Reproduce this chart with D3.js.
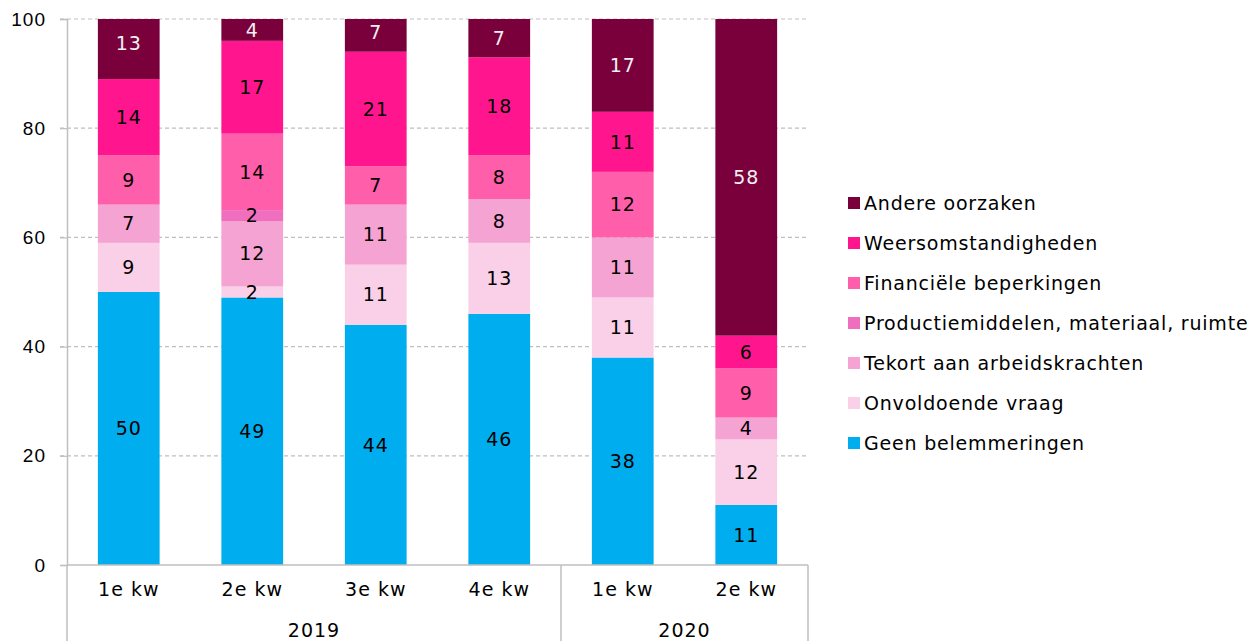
<!DOCTYPE html>
<html>
<head>
<meta charset="utf-8">
<script src="https://cdn.jsdelivr.net/npm/d3@7"></script>
<style>
  body { margin: 0; background: #fff; }
  svg { font-family: "DejaVu Sans", sans-serif; }
</style>
</head>
<body>
<svg id="chart" width="1258" height="641"></svg>
<script>
// quarters and years
const quarters = ['1e kw', '2e kw', '3e kw', '4e kw', '1e kw', '2e kw'];
const years = [
  { label: '2019', from: 0, to: 4 },
  { label: '2020', from: 4, to: 6 }
];

// series, bottom to top of the stack
const seriesNames = [
  'Geen belemmeringen',
  'Onvoldoende vraag',
  'Tekort aan arbeidskrachten',
  'Productiemiddelen, materiaal, ruimte',
  'Financiële beperkingen',
  'Weersomstandigheden',
  'Andere oorzaken'
];
const seriesColors = ['#00AEEF', '#FAD0E8', '#F5A3D3', '#F06EBE', '#FF5EAA', '#FF168E', '#7A003C'];
const labelColors = ['#000', '#000', '#000', '#000', '#000', '#000', '#F0F0F0'];

const geen = [50, 49, 44, 46, 38, 11];
const onvoldoende = [9, 2, 11, 13, 11, 12];
const tekort = [7, 12, 11, 8, 11, 4];
const productie = [0, 2, 0, 0, 0, 0];
const financieel = [9, 14, 7, 8, 12, 9];
const weer = [14, 17, 21, 18, 11, 6];
const andere = [13, 4, 7, 7, 17, 58];

const yTicks = [0, 20, 40, 60, 80, 100];

const seriesValues = [geen, onvoldoende, tekort, productie, financieel, weer, andere];
const rows = quarters.map((q, i) => {
  const r = { idx: i };
  seriesNames.forEach((s, k) => { r[s] = seriesValues[k][i]; });
  return r;
});

const margin = { top: 19, left: 67, right: 450, bottom: 76 };
const W = 1258, H = 641;
const plotW = W - margin.left - margin.right;
const plotH = H - margin.top - margin.bottom;
const fs = 19;

const svg = d3.select('#chart');
const g = svg.append('g').attr('transform', `translate(${margin.left},${margin.top})`);

const x = d3.scaleBand()
  .domain(d3.range(quarters.length))
  .range([0, plotW])
  .paddingInner(0.5)
  .paddingOuter(0.25);

const y = d3.scaleLinear().domain([0, 100]).range([plotH, 0]);

// gridlines
g.append('g')
  .selectAll('line')
  .data(yTicks.filter(t => t > 0))
  .enter()
  .append('line')
  .attr('x1', -7)
  .attr('x2', plotW)
  .attr('y1', d => y(d))
  .attr('y2', d => y(d))
  .attr('stroke', '#BFBFBF')
  .attr('stroke-width', 1.2)
  .attr('stroke-dasharray', '4,3');

// y axis
const yAxis = g.append('g')
  .call(d3.axisLeft(y).tickValues(yTicks).tickSize(7).tickPadding(14));
yAxis.select('.domain').attr('stroke', '#BFBFBF').attr('stroke-width', 1.5);
yAxis.selectAll('.tick line').attr('stroke', '#BFBFBF').attr('stroke-width', 1.2);
yAxis.selectAll('text').attr('font-size', fs).attr('letter-spacing', 1).attr('fill', '#000');

const stack = d3.stack().keys(seriesNames);
const stacked = stack(rows);

// bars
const layers = g.selectAll('.layer')
  .data(stacked)
  .enter()
  .append('g')
  .attr('class', 'layer')
  .attr('fill', (d, i) => seriesColors[i]);

layers.selectAll('rect')
  .data(d => d)
  .enter()
  .append('rect')
  .attr('x', d => x(d.data.idx))
  .attr('width', x.bandwidth())
  .attr('y', d => y(Math.min(100, d[1])))
  .attr('height', d => Math.max(0, y(Math.min(100, d[0])) - y(Math.min(100, d[1]))));

// value labels (centred on the full value, bars clipped at 100)
stacked.forEach((layer, k) => {
  g.append('g')
    .selectAll('text')
    .data(layer.filter(d => d[1] - d[0] > 0))
    .enter()
    .append('text')
    .attr('x', d => x(d.data.idx) + x.bandwidth() / 2)
    .attr('y', d => y((d[0] + d[1]) / 2))
    .attr('dy', '0.35em')
    .attr('text-anchor', 'middle')
    .attr('font-size', fs)
    .attr('letter-spacing', 1)
    .attr('fill', labelColors[k])
    .text(d => d[1] - d[0]);
});

// category axis
const ax = g.append('g').attr('transform', `translate(0,${plotH})`);
ax.append('line')
  .attr('x1', 0).attr('x2', plotW)
  .attr('stroke', '#BFBFBF').attr('stroke-width', 1.5);

const step = x.step();
const dividers = [0].concat(years.map(yr => yr.to));
ax.selectAll('.div')
  .data(dividers)
  .enter()
  .append('line')
  .attr('x1', d => d * step)
  .attr('x2', d => d * step)
  .attr('y1', 0)
  .attr('y2', H - margin.top - plotH)
  .attr('stroke', '#BFBFBF')
  .attr('stroke-width', 1.5);

ax.selectAll('.q')
  .data(quarters)
  .enter()
  .append('text')
  .attr('x', (d, i) => x(i) + x.bandwidth() / 2)
  .attr('y', 31)
  .attr('text-anchor', 'middle')
  .attr('font-size', fs)
  .attr('letter-spacing', 1)
  .text(d => d);

ax.selectAll('.yr')
  .data(years)
  .enter()
  .append('text')
  .attr('x', d => (d.from + d.to) / 2 * step)
  .attr('y', 72)
  .attr('text-anchor', 'middle')
  .attr('font-size', fs)
  .attr('letter-spacing', 1)
  .text(d => d.label);

// legend (top = last series)
const legendItems = seriesNames.map((s, i) => ({ name: s, color: seriesColors[i] })).reverse();
const legend = svg.append('g').attr('transform', 'translate(848,203)');
const li = legend.selectAll('g')
  .data(legendItems)
  .enter()
  .append('g')
  .attr('transform', (d, i) => `translate(0,${i * 40})`);
li.append('rect')
  .attr('x', 0).attr('y', -6)
  .attr('width', 12).attr('height', 12)
  .attr('fill', d => d.color);
li.append('text')
  .attr('x', 16)
  .attr('dy', '0.35em')
  .attr('font-size', fs)
  .attr('letter-spacing', 0.8)
  .text(d => d.name);
</script>
</body>
</html>
